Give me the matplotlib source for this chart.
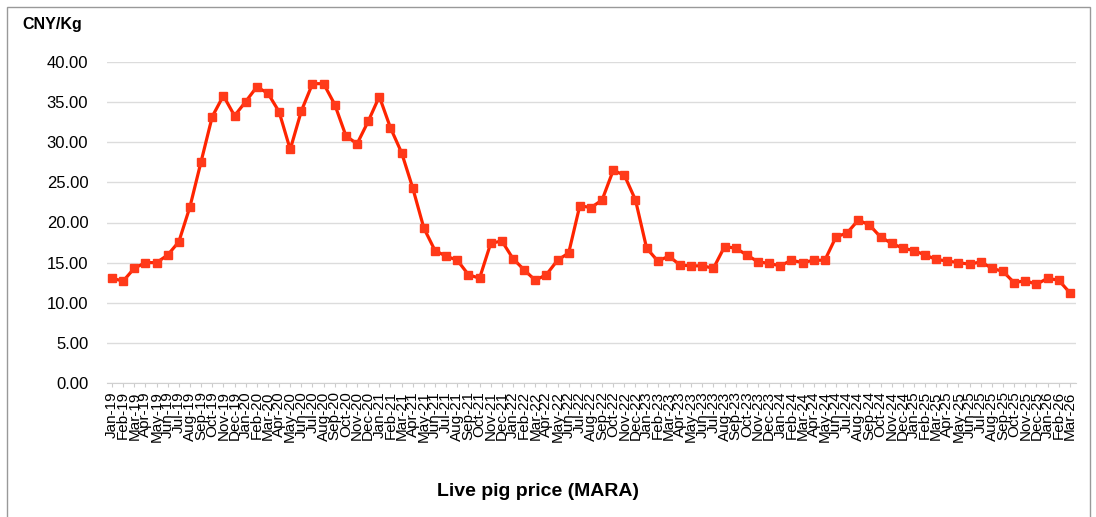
import numpy as np
import matplotlib.pyplot as plt
from matplotlib.patches import Rectangle

plt.rcParams['font.family'] = ['Liberation Sans', 'DejaVu Sans']

# monthly labels Jan-19 .. Mar-26
months = ['Jan', 'Feb', 'Mar', 'Apr', 'May', 'Jun', 'Jul', 'Aug', 'Sep', 'Oct', 'Nov', 'Dec']
labels = [f'{m}-{y}' for y in range(19, 27) for m in months][:87]

# live pig price, CNY/Kg
price = [13.05, 12.7, 14.3, 15.0, 15.0, 15.95, 17.6, 21.97, 27.6, 33.2, 35.8, 33.3,
         35.06, 36.9, 36.1, 33.8, 29.1, 33.9, 37.3, 37.3, 34.7, 30.8, 29.8, 32.6,
         35.7, 31.8, 28.7, 24.3, 19.3, 16.5, 15.8, 15.3, 13.5, 13.05, 17.4, 17.7,
         15.5, 14.1, 12.8, 13.5, 15.3, 16.2, 22.1, 21.85, 22.8, 26.5, 25.9, 22.8,
         16.8, 15.2, 15.8, 14.7, 14.6, 14.6, 14.3, 17.0, 16.8, 15.95, 15.1, 14.9,
         14.6, 15.3, 15.0, 15.3, 15.3, 18.2, 18.7, 20.3, 19.7, 18.2, 17.4, 16.8,
         16.5, 15.95, 15.4, 15.2, 15.0, 14.8, 15.1, 14.3, 13.9, 12.5, 12.75, 12.3,
         13.05, 12.8, 11.25]

x = np.arange(len(price))

fig = plt.figure(figsize=(10.96, 5.17), dpi=100)
ax = fig.add_axes([107/1096, 1 - 383/517, (1076 - 107)/1096, (383 - 62)/517])

ax.plot(x, price, color='#ff2400', lw=2.3, marker='s', ms=6,
        markerfacecolor='#ff3a1a', markeredgecolor='#ff3a1a', zorder=3)

ax.set_ylim(0, 40)
ax.set_xlim(-0.45, len(price) - 0.45)
ax.set_yticks(np.arange(0, 41, 5))
ax.set_yticklabels([f'{v:.2f}' for v in np.arange(0, 41, 5)], fontsize=12)
ax.yaxis.grid(True, color='#dcdcdc', lw=1)
ax.set_axisbelow(True)
ax.tick_params(axis='y', length=0, pad=13.5)

ax.set_xticks(x)
ax.set_xticklabels(labels, rotation=90, fontsize=11)
ax.tick_params(axis='x', length=3, color='#cccccc', pad=3)

for s in ['top', 'right', 'left']:
    ax.spines[s].set_visible(False)
ax.spines['bottom'].set_color('#d0d0d0')

fig.text(22/1096, 1 - 25/517, 'CNY/Kg', fontsize=11.5, fontweight='bold', va='center')
fig.text(538/1096, 1 - 492/517, 'Live pig price (MARA)', fontsize=14,
         fontweight='bold', ha='center', va='center')

fig.patches.append(Rectangle((7/1096, -0.01), (1090 - 7)/1096, 1 - 7/517 + 0.01,
                             transform=fig.transFigure, fill=False,
                             edgecolor='#999999', lw=1))

fig.savefig('out.png', dpi=100)
